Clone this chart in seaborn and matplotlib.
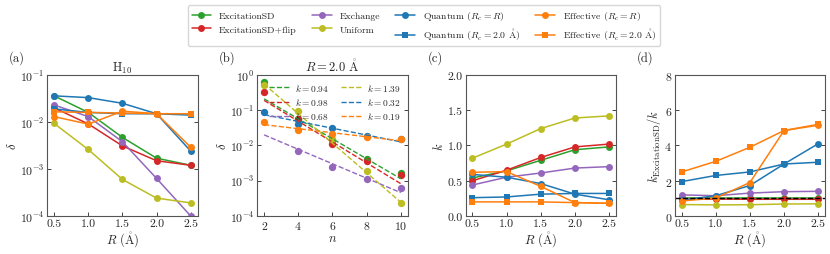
import numpy as np
import pandas as pd
import seaborn as sns
import matplotlib.pyplot as plt
from matplotlib.lines import Line2D

# ---- data ----
R = [0.5, 1.0, 1.5, 2.0, 2.5]
n_atoms = [2, 4, 6, 8, 10]

# (a) delta vs R for H10
delta_exc = [0.036, 0.016, 0.0047, 0.0017, 0.0012]
delta_flip = [0.020, 0.0091, 0.0031, 0.0015, 0.0012]
delta_exch = [0.023, 0.013, 0.0038, 0.00063, 0.0001]
delta_unif = [0.0093, 0.0026, 0.0006, 0.00024, 0.00019]
delta_q_r = [0.036, 0.033, 0.025, 0.015, 0.0024]
delta_q_2 = [0.019, 0.016, 0.015, 0.015, 0.014]
delta_e_r = [0.013, 0.009, 0.017, 0.015, 0.0029]
delta_e_2 = [0.0165, 0.016, 0.0155, 0.015, 0.015]

# (b) delta vs n at R = 2.0 A
dn_exc = [0.65, 0.055, 0.014, 0.0042, 0.0017]
dn_flip = [0.33, 0.056, 0.011, 0.0036, 0.0015]
dn_exch = [np.nan, 0.0071, 0.0024, 0.0011, 0.00062]
dn_unif = [0.52, 0.095, 0.015, 0.0019, 0.00024]
dn_q = [0.092, 0.040, 0.031, 0.018, 0.015]
dn_e = [0.047, 0.027, 0.021, 0.017, 0.015]
# fitted exponents and prefactors (delta = A * 2^(-k n), A given at n = 2)
fit_k = [0.94, 0.98, 0.68, 1.39, 0.32, 0.19]
fit_a = [0.21, 0.19, 0.020, 0.55, 0.075, 0.039]

# (c) k vs R
k_exc = [0.54, 0.64, 0.79, 0.94, 0.98]
k_flip = [0.50, 0.65, 0.83, 0.98, 1.02]
k_exch = [0.44, 0.55, 0.61, 0.68, 0.70]
k_unif = [0.82, 1.02, 1.24, 1.39, 1.42]
k_q_r = [0.59, 0.55, 0.46, 0.31, 0.23]
k_q_2 = [0.26, 0.27, 0.31, 0.32, 0.32]
k_e_r = [0.62, 0.63, 0.42, 0.19, 0.18]
k_e_2 = [0.20, 0.20, 0.20, 0.19, 0.18]

# (d) k_ExcitationSD / k
r_exc = [1.0, 1.0, 1.0, 1.0, 1.0]
r_flip = [0.95, 0.96, 0.95, 0.95, 0.95]
r_exch = [1.2, 1.15, 1.3, 1.38, 1.4]
r_unif = [0.65, 0.63, 0.64, 0.68, 0.69]
r_q_r = [0.9, 1.15, 1.73, 2.95, 4.1]
r_q_2 = [1.95, 2.3, 2.5, 2.95, 3.05]
r_e_r = [0.85, 1.02, 1.9, 4.85, 5.15]
r_e_2 = [2.5, 3.1, 3.9, 4.85, 5.2]

ANG = r'$\mathring{\mathrm{A}}$'
names = ['ExcitationSD', 'ExcitationSD+flip', 'Exchange', 'Uniform',
         r'Quantum ($R_c = R$)', r'Quantum ($R_c = 2.0$ ' + ANG + ')',
         r'Effective ($R_c = R$)', r'Effective ($R_c = 2.0$ ' + ANG + ')']
colors = ['#2ca02c', '#d62728', '#9467bd', '#bcbd22',
          '#1f77b4', '#1f77b4', '#ff7f0e', '#ff7f0e']
markers = ['o', 'o', 'o', 'o', 'o', 's', 'o', 's']

sns.set_style('ticks')
plt.rcParams['font.family'] = ['cmr10', 'DejaVu Serif']
plt.rcParams['mathtext.fontset'] = 'cm'
plt.rcParams['axes.unicode_minus'] = False
plt.rcParams['axes.formatter.use_mathtext'] = True
plt.rcParams['axes.edgecolor'] = '#555555'
plt.rcParams['xtick.direction'] = 'in'
plt.rcParams['ytick.direction'] = 'in'

fig = plt.figure(figsize=(8.3, 2.55), dpi=100)
lefts = [0.057, 0.31, 0.561, 0.813]
axes = [fig.add_axes([l, 0.149, 0.181, 0.553]) for l in lefts]


def draw(ax, x, series):
    for y, c, m in zip(series, colors, markers):
        df = pd.DataFrame({'x': x, 'y': y}).dropna()
        sns.lineplot(data=df, x='x', y='y', ax=ax, color=c, marker=m,
                     markersize=5, markeredgewidth=0, linewidth=1.1)


def style(ax, xlabel, ylabel):
    ax.set_xlabel(xlabel, fontsize=9, labelpad=1)
    ax.set_ylabel(ylabel, fontsize=9, labelpad=1)
    ax.tick_params(labelsize=8.5, length=3, width=0.6, right=True, pad=2)
    ax.minorticks_off()
    for s in ax.spines.values():
        s.set_linewidth(0.8)


# (a)
ax = axes[0]
draw(ax, R, [delta_exc, delta_flip, delta_exch, delta_unif,
             delta_q_r, delta_q_2, delta_e_r, delta_e_2])
ax.set_yscale('log')
ax.set_ylim(1e-4, 1e-1)
ax.set_xticks(R)
ax.set_xlim(0.4, 2.6)
ax.set_title(r'H$_{10}$', fontsize=9, pad=3)
style(ax, r'$R$ (' + ANG + ')', r'$\delta$')
ax.minorticks_off()

# (b)
ax = axes[1]
bser = [dn_exc, dn_flip, dn_exch, dn_unif, dn_q, dn_e]
bcol = ['#2ca02c', '#d62728', '#9467bd', '#bcbd22', '#1f77b4', '#ff7f0e']
nn = np.array(n_atoms)
for y, c, k, a in zip(bser, bcol, fit_k, fit_a):
    sns.scatterplot(x=n_atoms, y=y, ax=ax, color=c, s=28, linewidth=0)
    fit = a * 2.0 ** (-k * (nn - 2))
    sns.lineplot(x=n_atoms, y=fit, ax=ax, color=c, linestyle='--',
                 linewidth=1.0, label=rf'$k = {k:.2f}$')
ax.set_yscale('log')
ax.set_ylim(1e-4, 1e0)
ax.set_xticks(n_atoms)
ax.set_xlim(1.6, 10.4)
ax.set_title(r'$R = 2.0$ ' + ANG, fontsize=9, pad=3)
style(ax, r'$n$', r'$\delta$')
ax.minorticks_off()
ax.legend(ncol=2, fontsize=6.8, frameon=False, loc='upper right',
          handlelength=2.2, columnspacing=1.2, labelspacing=0.35,
          borderaxespad=0.3, handletextpad=0.6)

# (c)
ax = axes[2]
draw(ax, R, [k_exc, k_flip, k_exch, k_unif, k_q_r, k_q_2, k_e_r, k_e_2])
ax.set_ylim(0, 2)
ax.set_yticks([0, 0.5, 1.0, 1.5, 2.0])
ax.set_xticks(R)
ax.set_xlim(0.4, 2.6)
style(ax, r'$R$ (' + ANG + ')', r'$k$')

# (d)
ax = axes[3]
draw(ax, R, [r_exc, r_flip, r_exch, r_unif, r_q_r, r_q_2, r_e_r, r_e_2])
ax.axhline(1.0, color='black', linestyle='--', linewidth=1.0)
ax.set_ylim(0, 8)
ax.set_yticks([0, 2, 4, 6, 8])
ax.set_xticks(R)
ax.set_xlim(0.4, 2.6)
style(ax, r'$R$ (' + ANG + ')', r'$k_{\mathrm{ExcitationSD}}/k$')

for ax in [axes[0], axes[1]]:
    ax.yaxis.set_major_formatter(plt.LogFormatterMathtext())
for ax in [axes[2]]:
    ax.yaxis.set_major_formatter(plt.FormatStrFormatter('%.1f'))
for ax in [axes[0], axes[2], axes[3]]:
    ax.xaxis.set_major_formatter(plt.FormatStrFormatter('%.1f'))

for ax, lab in zip(axes, ['(a)', '(b)', '(c)', '(d)']):
    pos = ax.get_position()
    fig.text(pos.x0 - 0.046, 0.745, lab, fontsize=9, va='bottom')

handles = [Line2D([], [], color=c, marker=m, markersize=5, markeredgewidth=0,
                  linewidth=1.1) for c, m in zip(colors, markers)]
fig.legend(handles, names, ncol=4, loc='upper center',
           bbox_to_anchor=(0.511, 0.995), fontsize=7, frameon=True,
           fancybox=True, edgecolor='#cccccc', columnspacing=1.6,
           handlelength=2.0, labelspacing=0.5)

fig.savefig('out.png', dpi=100)
